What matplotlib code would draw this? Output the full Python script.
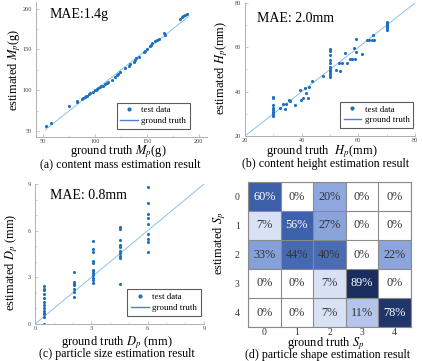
import matplotlib
matplotlib.use("Agg")
import matplotlib.pyplot as plt
import numpy as np
from matplotlib.colors import LinearSegmentedColormap
from matplotlib.lines import Line2D
from matplotlib.ticker import MultipleLocator

plt.rcParams['font.family'] = ['Liberation Serif', 'DejaVu Serif']
plt.rcParams['mathtext.fontset'] = 'stix'

# ---------------- data ----------------
# (a) content mass
mass_gt = [52.6, 57.4, 75.2, 82.3, 82.9, 87.0, 88.5, 90.3, 91.5, 92.6, 94.5, 95.5, 97.7,
           99.5, 101.0, 102.0, 103.2, 104.8, 106.0, 108.0, 109.5, 111.3, 112.5, 116.0,
           119.4, 121.6, 122.5, 124.2, 129.0, 132.3, 133.5, 137.1, 138.7, 139.5, 142.0,
           146.8, 148.0, 150.0, 153.2, 154.0, 154.9, 158.1, 160.0, 161.3, 166.1, 167.0,
           182.3, 183.9, 185.0, 187.1, 188.7]
mass_est = [56.9, 60.1, 80.4, 86.5, 85.3, 89.3, 90.5, 91.8, 93.0, 93.4, 95.8, 97.0, 98.2,
            100.0, 100.7, 102.0, 102.7, 103.9, 105.0, 105.5, 107.5, 108.8, 110.5, 112.8,
            116.9, 118.9, 120.5, 123.0, 127.0, 129.9, 132.0, 135.1, 137.2, 139.0, 140.4,
            147.3, 148.5, 150.1, 154.2, 155.5, 157.4, 160.7, 161.5, 162.3, 169.6, 168.0,
            187.8, 189.8, 190.5, 191.9, 193.1]

# (b) content height
height_gt = [30, 30, 30, 30, 30, 30, 30, 30, 30,
             32.2, 33.4, 34.0, 34.5, 35.6, 36.0, 37.8, 39.5, 39.9, 40.4, 41.1, 41.5, 42.2,
             42.5, 43.6, 47.5,
             50, 50, 50, 50, 50, 50, 50, 50, 50, 50, 50, 50,
             52.1, 53.1, 53.6, 54.2, 55.4, 56.0, 57.2, 57.8, 58.4, 58.9, 59.2, 59.3, 61.3,
             63.1, 63.6, 64.8, 65.2, 65.4,
             70, 70, 70, 70, 70, 70, 70, 70]
height_est = [37.8, 37.3, 33.8, 32.7, 31.8, 31.0, 30.3, 29.5, 29.0,
              32.5, 34.4, 32.0, 34.4, 36.2, 35.6, 34.1, 40.6, 36.2, 37.1, 41.5, 39.6, 37.1,
              42.0, 44.7, 46.9,
              59.4, 58.2, 56.5, 54.3, 52.8, 51.3, 50.6, 49.9, 49.1, 48.4, 47.4, 46.5,
              49.9, 52.8, 49.4, 53.1, 57.5, 53.1, 54.7, 54.7, 59.9, 54.7, 63.8, 57.9, 56.9,
              63.5, 63.5, 63.5, 65.7, 63.5,
              71.5, 71.0, 70.5, 70.0, 69.5, 69.0, 68.5, 68.0]

# (c) particle size
size_gt = [0.5] * 13 + [2.1] * 7 + [3.1] * 12 + [4.5] * 10 + [6.0] * 9
size_est = [2.43, 2.28, 2.17, 1.96, 1.70, 1.43, 1.21, 1.00, 0.83, 0.72, 0.62, 0.43, 0.0,
            3.34, 2.70, 2.60, 2.49, 2.28, 2.06, 1.74,
            5.36, 4.83, 4.62, 4.02, 3.91, 3.49, 3.40, 3.28, 3.13, 2.98, 2.81, 2.66,
            6.26, 6.09, 5.40, 5.10, 4.93, 4.70, 4.55, 4.40, 4.25, 2.60,
            8.80, 7.80, 7.10, 6.80, 6.40, 5.80, 5.45, 5.25, 4.60]

# (d) particle shape confusion matrix (rows: estimated, cols: ground truth), %
shape_labels = ['0', '1', '2', '3', '4']
shape_cm = [[60, 0, 20, 0, 0],
            [7, 56, 27, 0, 0],
            [33, 44, 40, 0, 22],
            [0, 0, 7, 89, 0],
            [0, 0, 7, 11, 78]]

# ---------------- figure ----------------
W, H = 423, 361
fig = plt.figure(figsize=(W / 100, H / 100), dpi=100)

def frac(l, t, r, b):
    return [l / W, 1 - b / H, (r - l) / W, (b - t) / H]

dot_c = '#1f6fc0'
line_c = '#8cc0ea'
spine_c = '#b0b0b0'
tick_fs = 4.5
lab_fs = 9
cap_fs = 8.6
mae_fs = 10

def style(ax):
    for s in ['top', 'right']:
        ax.spines[s].set_visible(False)
    for s in ['left', 'bottom']:
        ax.spines[s].set_color(spine_c)
        ax.spines[s].set_linewidth(0.7)
    ax.tick_params(which='both', direction='in', colors=spine_c, labelcolor='#444444',
                   labelsize=tick_fs, pad=3)
    ax.tick_params(axis='x', pad=1.5)
    ax.tick_params(which='major', length=2.0, width=0.5)
    ax.tick_params(which='minor', length=1.2, width=0.4)

def legend(ax, loc_bbox):
    h = [Line2D([], [], marker='o', ls='none', color=dot_c, markersize=2.0),
         Line2D([], [], color='#4d80d2', lw=1.0)]
    lg = ax.legend(h, ['test data', 'ground truth'], loc='lower right',
                   bbox_to_anchor=loc_bbox, fontsize=6.4, frameon=True, fancybox=False,
                   handlelength=2.0, handletextpad=0.4, borderpad=0.4, labelspacing=0.3,
                   borderaxespad=0)
    lg.get_frame().set_edgecolor('#333333')
    lg.get_frame().set_linewidth(0.8)

# (a)
ax = fig.add_axes(frac(36, 2, 207, 137))
style(ax)
ax.plot([52, 190], [52, 190], color=line_c, lw=0.7, zorder=1)
ax.scatter(mass_gt, mass_est, s=5, color=dot_c, zorder=2, linewidths=0)
ax.set_xlim(43, 208)
ax.set_ylim(43, 208)
ax.xaxis.set_major_locator(MultipleLocator(50))
ax.yaxis.set_major_locator(MultipleLocator(50))
ax.xaxis.set_minor_locator(MultipleLocator(25))
ax.yaxis.set_minor_locator(MultipleLocator(25))
ax.text(0.08, 0.91, 'MAE:1.4g', transform=ax.transAxes, fontsize=mae_fs, va='center', ha='left')
legend(ax, (0.9, 0.06))
fig.text(118 / W, 1 - 152 / H, r'ground truth $M_p$(g)', ha='center', va='center', fontsize=lab_fs)
fig.text(15 / W, 1 - 70 / H, r'estimated $M_p$(g)', ha='center', va='center', fontsize=lab_fs, rotation=90)
fig.text(120 / W, 1 - 164 / H, '(a) content mass estimation result', ha='center', va='center', fontsize=cap_fs)

# (b)
ax = fig.add_axes(frac(245, 3, 415, 136))
style(ax)
ax.plot([20, 80], [20, 80], color=line_c, lw=0.7, zorder=1)
ax.scatter(height_gt, height_est, s=5, color=dot_c, zorder=2, linewidths=0)
ax.set_xlim(20, 80)
ax.set_ylim(20, 80)
ax.xaxis.set_major_locator(MultipleLocator(20))
ax.yaxis.set_major_locator(MultipleLocator(20))
ax.xaxis.set_minor_locator(MultipleLocator(10))
ax.yaxis.set_minor_locator(MultipleLocator(10))
ax.text(0.07, 0.88, 'MAE: 2.0mm', transform=ax.transAxes, fontsize=mae_fs, va='center', ha='left')
legend(ax, (0.99, 0.06))
fig.text(322 / W, 1 - 152 / H, r'ground truth  $H_p$(mm)', ha='center', va='center', fontsize=lab_fs)
fig.text(222 / W, 1 - 68 / H, r'estimated $H_p$(mm)', ha='center', va='center', fontsize=lab_fs, rotation=90)
fig.text(326 / W, 1 - 164 / H, '(b) content height estimation result', ha='center', va='center', fontsize=cap_fs)

# (c)
ax = fig.add_axes(frac(35, 184, 204, 324))
style(ax)
ax.plot([0, 9], [0, 9], color=line_c, lw=0.7, zorder=1)
ax.scatter(size_gt, size_est, s=5, color=dot_c, zorder=2, linewidths=0)
ax.set_xlim(0, 9)
ax.set_ylim(0, 9)
ax.xaxis.set_major_locator(MultipleLocator(3))
ax.yaxis.set_major_locator(MultipleLocator(3))
ax.xaxis.set_minor_locator(MultipleLocator(1))
ax.yaxis.set_minor_locator(MultipleLocator(1))
ax.text(0.09, 0.92, 'MAE: 0.8mm', transform=ax.transAxes, fontsize=mae_fs, va='center', ha='left')
legend(ax, (0.98, 0.06))
fig.text(117 / W, 1 - 343 / H, r'ground truth $D_p$ (mm)', ha='center', va='center', fontsize=lab_fs)
fig.text(12 / W, 1 - 262 / H, r'estimated $D_p$ (mm)', ha='center', va='center', fontsize=lab_fs, rotation=90)
fig.text(117 / W, 1 - 354 / H, '(c) particle size estimation result', ha='center', va='center', fontsize=cap_fs)

# (d)
cmap = LinearSegmentedColormap.from_list('cm', [
    (0.00, '#ffffff'), (0.07, '#d8e0f4'), (0.11, '#b4c4ea'), (0.20, '#8ea7de'),
    (0.33, '#86a0da'), (0.40, '#4a6cb3'), (0.60, '#3b5fa9'), (0.78, '#21366a'),
    (0.89, '#1c2e60'), (1.00, '#162550')])
ax = fig.add_axes(frac(248, 182, 411, 327))
cm = np.array(shape_cm)
ax.imshow(cm, cmap=cmap, vmin=0, vmax=100, aspect='auto')
for i in range(cm.shape[0]):
    for j in range(cm.shape[1]):
        v = cm[i, j]
        ax.text(j, i, f'{v}%', ha='center', va='center', fontsize=8.8,
                color='white' if v >= 50 else '#333333')
ax.set_xticks(range(5))
ax.set_yticks(range(5))
ax.set_xticklabels(shape_labels)
ax.set_yticklabels(shape_labels)
ax.set_xticks(np.arange(-0.5, 5, 1), minor=True)
ax.set_yticks(np.arange(-0.5, 5, 1), minor=True)
ax.grid(which='minor', color='#8a8a8a', lw=0.8)
ax.tick_params(which='both', length=0, labelsize=7, labelcolor='#333333', pad=1.0)
ax.tick_params(axis='y', pad=6)
for s in ax.spines.values():
    s.set_color('#8a8a8a')
    s.set_linewidth(0.8)
fig.text(326 / W, 1 - 344 / H, r'ground truth $S_p$', ha='center', va='center', fontsize=lab_fs)
fig.text(220 / W, 1 - 243 / H, r'estimated $S_p$', ha='center', va='center', fontsize=lab_fs, rotation=90)
fig.text(328 / W, 1 - 355 / H, '(d) particle shape estimation result', ha='center', va='center', fontsize=cap_fs)

fig.savefig('out.png', dpi=100)
